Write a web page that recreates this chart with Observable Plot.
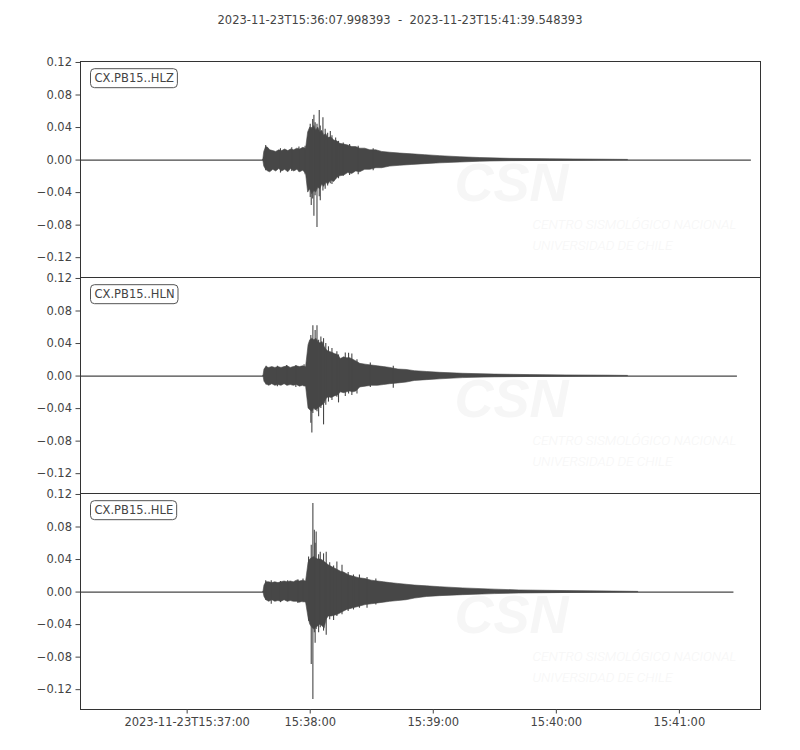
<!DOCTYPE html>
<html><head><meta charset="utf-8">
<script src="https://cdn.jsdelivr.net/npm/d3@7"></script>
<script src="https://cdn.jsdelivr.net/npm/@observablehq/plot@0.6"></script>
<style>
body{margin:0;background:#fff;}
#title{width:800px;height:40px;line-height:40px;text-align:center;font-family:"DejaVu Sans";font-size:11.5px;color:#444;white-space:pre;}
</style></head><body>
<div id="title"></div>
<div id="chart"></div>
<script>
// ---- data ----
const titleText = "2023-11-23T15:36:07.998393  -  2023-11-23T15:41:39.548393";
const channels = ["CX.PB15..HLZ", "CX.PB15..HLN", "CX.PB15..HLE"];
const refTime = "2023-11-23T15:37:00Z";          // seconds below are relative to this
const startSec = -52.001607;                    // 15:36:07.998393
const endSec = 279.548393;                      // 15:41:39.548393
const traceEndSec = [275.1, 268.3, 266.6];

const yTicks = [-0.12, -0.08, -0.04, 0, 0.04, 0.08, 0.12];
const yDomain = [-0.1444, 0.1212];
const xTickTimes = ["2023-11-23T15:37:00Z", "2023-11-23T15:38:00Z", "2023-11-23T15:39:00Z", "2023-11-23T15:40:00Z", "2023-11-23T15:41:00Z"];
const xTickLabels = ["2023-11-23T15:37:00", "15:38:00", "15:39:00", "15:40:00", "15:41:00"];
const watermarkTexts = ["CSN", "CENTRO SISMOLÓGICO NACIONAL", "UNIVERSIDAD DE CHILE"];

// HLZ envelope
const zT   = [37.1,37.6,38.5,39.5,40.5,42.0,43.4,44.9,46.3,47.8,49.3,50.7,52.2,53.7,55.1,56.6,58.0,59.0,60.0,61.0,62.0,62.9,63.9,64.9,65.9,66.8,67.8,68.8,70.2,71.7,73.2,74.6,76.6,78.5,80.5,82.4,84.4,86.8,89.3,92.2,95.1,99.0,103.9,109.8,116.1,123.4,133.2,142.9,157.6,177.1,201.5,215.0];
const zTop = [0,0.010,0.016,0.015,0.012,0.011,0.010,0.012,0.011,0.013,0.011,0.013,0.012,0.014,0.013,0.015,0.014,0.034,0.040,0.038,0.042,0.036,0.040,0.034,0.036,0.030,0.032,0.027,0.028,0.024,0.023,0.020,0.019,0.018,0.016,0.016,0.014,0.014,0.012,0.012,0.010,0.009,0.008,0.007,0.006,0.0048,0.0035,0.0025,0.0015,0.001,0.0005,0.0002];
const zBot = [0,-0.008,-0.012,-0.014,-0.015,-0.012,-0.014,-0.011,-0.014,-0.012,-0.015,-0.011,-0.014,-0.012,-0.015,-0.013,-0.017,-0.040,-0.036,-0.042,-0.038,-0.040,-0.034,-0.036,-0.030,-0.033,-0.028,-0.030,-0.025,-0.027,-0.022,-0.020,-0.019,-0.016,-0.017,-0.014,-0.015,-0.012,-0.012,-0.010,-0.010,-0.008,-0.007,-0.006,-0.005,-0.004,-0.003,-0.002,-0.0013,-0.001,-0.0005,-0.0002];
const zSpikeT   = [38.3,45.5,51.0,54.5,57.5,60.0,60.5,61.2,61.8,62.4,63.3,64.4,64.9,66.2,67.3,68.5,69.8,70.6,72.4,73.8,76.1,79.2,83.4,90.7];
const zSpikeTop = [0.018,0.014,0.015,0.016,0.017,0.044,0.040,0.050,0.055,0.046,0.044,0.061,0.042,0.052,0.038,0.033,0.035,0.030,0.027,0.023,0.021,0.019,0.017,0.014];
const zSpikeBot = [-0.013,-0.016,-0.014,-0.015,-0.018,-0.046,-0.056,-0.048,-0.069,-0.044,-0.083,-0.045,-0.050,-0.038,-0.036,-0.032,-0.029,-0.030,-0.024,-0.023,-0.020,-0.019,-0.018,-0.013];

// HLN envelope
const nT   = [37.2,37.7,38.6,40,41.5,43,44.5,46,47.5,49,50.5,52,53.5,55,56.5,58,59.2,60,61,62,63,64,65,66,67,68,69,70.5,72,73.5,75,76.5,78,79.5,81,82.5,84.4,87,90,93,96,99,103,107,111,117,123.4,134.6,150,167,185,205,215];
const nTop = [0,0.008,0.011,0.010,0.011,0.010,0.011,0.010,0.011,0.012,0.010,0.011,0.012,0.011,0.012,0.011,0.038,0.044,0.046,0.044,0.046,0.042,0.040,0.042,0.036,0.032,0.030,0.029,0.027,0.026,0.021,0.023,0.022,0.022,0.020,0.018,0.015,0.014,0.013,0.012,0.011,0.010,0.008,0.0075,0.006,0.005,0.004,0.0028,0.0018,0.0012,0.0008,0.0005,0.0002];
const nBot = [0,-0.007,-0.010,-0.012,-0.010,-0.012,-0.011,-0.012,-0.010,-0.012,-0.011,-0.012,-0.011,-0.013,-0.012,-0.013,-0.040,-0.042,-0.044,-0.040,-0.042,-0.040,-0.038,-0.036,-0.034,-0.028,-0.026,-0.027,-0.025,-0.024,-0.020,-0.021,-0.020,-0.019,-0.020,-0.019,-0.014,-0.013,-0.012,-0.012,-0.011,-0.010,-0.009,-0.008,-0.006,-0.005,-0.004,-0.0025,-0.0016,-0.0011,-0.0008,-0.0005,-0.0002];
const nSpikeT   = [38.5,44.0,48.5,53.0,57.0,60.3,60.8,61.3,62.4,63.3,64.1,65.2,66.5,67.6,68.9,70.6,73.0,73.8,77.1,78.7,80.3,82.8,89.3,100.5];
const nSpikeTop = [0.012,0.012,0.013,0.013,0.014,0.050,0.045,0.062,0.056,0.062,0.044,0.048,0.046,0.040,0.036,0.034,0.030,0.026,0.0285,0.028,0.027,0.020,0.016,0.012];
const nSpikeBot = [-0.011,-0.013,-0.012,-0.014,-0.013,-0.058,-0.070,-0.046,-0.042,-0.044,-0.050,-0.040,-0.060,-0.036,-0.032,-0.030,-0.026,-0.033,-0.025,-0.022,-0.024,-0.022,-0.014,-0.015];

// HLE envelope
const eT   = [37.2,37.7,38.6,40,41.5,43,44.5,46,47.5,49,50.5,52,53.5,55,56.5,58,59.2,60,61,62,63,64,65,66,67,68,69,70.5,72,73.5,75,76.5,78,79.5,81,82.5,84,87,90,93,96,99,103,107,111,117,123.4,134.6,150,162,185,208,220];
const eTop = [0,0.008,0.012,0.012,0.011,0.012,0.011,0.012,0.013,0.012,0.013,0.012,0.014,0.013,0.014,0.013,0.036,0.040,0.042,0.043,0.041,0.040,0.040,0.039,0.037,0.035,0.033,0.031,0.029,0.027,0.025,0.024,0.022,0.020,0.019,0.018,0.017,0.016,0.014,0.013,0.012,0.011,0.010,0.009,0.008,0.007,0.006,0.0045,0.003,0.002,0.0012,0.0006,0.0002];
const eBot = [0,-0.006,-0.010,-0.012,-0.010,-0.012,-0.011,-0.012,-0.010,-0.012,-0.011,-0.012,-0.012,-0.013,-0.012,-0.013,-0.032,-0.040,-0.044,-0.046,-0.044,-0.042,-0.040,-0.042,-0.045,-0.034,-0.030,-0.030,-0.029,-0.028,-0.026,-0.024,-0.022,-0.021,-0.020,-0.019,-0.018,-0.016,-0.015,-0.014,-0.013,-0.012,-0.011,-0.010,-0.008,-0.006,-0.005,-0.0038,-0.0025,-0.0018,-0.0011,-0.0006,-0.0002];
const eSpikeT   = [38.3,41,45.5,49,54,56.5,59.2,60.5,61.3,62.0,62.4,62.9,64.1,64.9,66.5,67.8,69.5,71.4,73.0,75.5,78.5,81.1,84,87.7,92];
const eSpikeTop = [0.014,0.014,0.013,0.014,0.015,0.016,0.043,0.0575,0.109,0.076,0.060,0.074,0.046,0.049,0.047,0.049,0.036,0.032,0.037,0.033,0.024,0.021,0.021,0.018,0.016];
const eSpikeBot = [-0.010,-0.015,-0.013,-0.012,-0.014,-0.013,-0.036,-0.089,-0.132,-0.050,-0.063,-0.046,-0.050,-0.044,-0.048,-0.053,-0.034,-0.035,-0.030,-0.028,-0.024,-0.022,-0.020,-0.020,-0.016];

// ---- build tables ----
const refMs = Date.parse(refTime);
const toDate = s => new Date(refMs + s * 1000);
const env = [[zT, zTop, zBot], [nT, nTop, nBot], [eT, eTop, eBot]];
const spk = [[zSpikeT, zSpikeTop, zSpikeBot], [nSpikeT, nSpikeTop, nSpikeBot], [eSpikeT, eSpikeTop, eSpikeBot]];
const envRows = env.flatMap(([t, top, bot], k) => t.map((s, i) => ({ch: channels[k], time: toDate(s), top: top[i], bot: bot[i]})));
const spikeRows = spk.flatMap(([t, top, bot], k) => t.map((s, i) => ({ch: channels[k], time: toDate(s), top: top[i], bot: bot[i]})));
const baseRows = channels.map((c, k) => ({ch: c, start: toDate(startSec), end: toDate(traceEndSec[k])}));
const xTicks = xTickTimes.map(s => new Date(s));

const ink = "#474747";
const wm = "#f6f6f6";

const chart = Plot.plot({
  width: 800, height: 710,
  marginTop: 20, marginBottom: 40, marginLeft: 80, marginRight: 40,
  style: {fontFamily: "DejaVu Sans", fontSize: "11.5px", color: "#444", background: "white", overflow: "visible"},
  x: {type: "utc", domain: [toDate(startSec), toDate(endSec)]},
  y: {domain: yDomain},
  fy: {domain: channels, padding: 0, axis: null},
  marks: [
    // faint watermark
    Plot.text(channels, {fy: d => d, text: () => watermarkTexts[0], frameAnchor: "top-left", dx: 374, dy: 122, textAnchor: "start", lineAnchor: "middle",
      fontSize: 54, fontWeight: "bold", fontStyle: "italic", fontFamily: "Liberation Sans", fill: wm}),
    Plot.text(channels, {fy: d => d, text: () => watermarkTexts[1], frameAnchor: "top-left", dx: 452, dy: 163, textAnchor: "start", lineAnchor: "middle",
      fontSize: 13.5, fontWeight: 300, fontStyle: "italic", fontFamily: "Roboto", fill: wm}),
    Plot.text(channels, {fy: d => d, text: () => watermarkTexts[2], frameAnchor: "top-left", dx: 452, dy: 184, textAnchor: "start", lineAnchor: "middle",
      fontSize: 13.5, fontWeight: 300, fontStyle: "italic", fontFamily: "Roboto", fill: wm}),
    // traces
    Plot.ruleY(baseRows, {fy: "ch", y: 0, x1: "start", x2: "end", stroke: ink, strokeWidth: 1.2}),
    Plot.areaY(envRows, {fy: "ch", x: "time", y1: "bot", y2: "top", fill: ink, stroke: ink, strokeWidth: 0.6}),
    Plot.ruleX(spikeRows, {fy: "ch", x: "time", y1: "bot", y2: "top", stroke: ink, strokeWidth: 1.1}),
    Plot.frame({stroke: "#333"}),
    Plot.axisY({ticks: yTicks, tickFormat: d3.format(".2f"), tickSize: 4.5, tickPadding: 4, label: null}),
    Plot.axisX({ticks: xTicks, tickFormat: d => xTickLabels[xTicks.findIndex(t => +t === +d)], tickSize: 4.5, tickPadding: 4, label: null}),
    Plot.text(channels, {fy: d => d, text: d => d, frameAnchor: "top-left", dx: 14, dy: 17, textAnchor: "start", lineAnchor: "middle", fill: "#444"})
  ]
});

document.getElementById("title").textContent = titleText;
document.getElementById("chart").append(chart);

// rounded boxes behind trace labels
d3.select(chart).selectAll("text").filter(function () { return channels.includes(this.textContent); }).each(function () {
  const b = this.getBBox();
  const r = document.createElementNS("http://www.w3.org/2000/svg", "rect");
  r.setAttribute("x", b.x - 4);
  r.setAttribute("y", b.y - 2.5);
  r.setAttribute("width", b.width + 7.5);
  r.setAttribute("height", b.height + 5);
  r.setAttribute("rx", 4);
  r.setAttribute("fill", "white");
  r.setAttribute("stroke", "#555");
  r.setAttribute("stroke-width", 1);
  const tr = this.getAttribute("transform");
  if (tr) r.setAttribute("transform", tr);
  this.parentNode.insertBefore(r, this);
});
</script>
</body></html>
